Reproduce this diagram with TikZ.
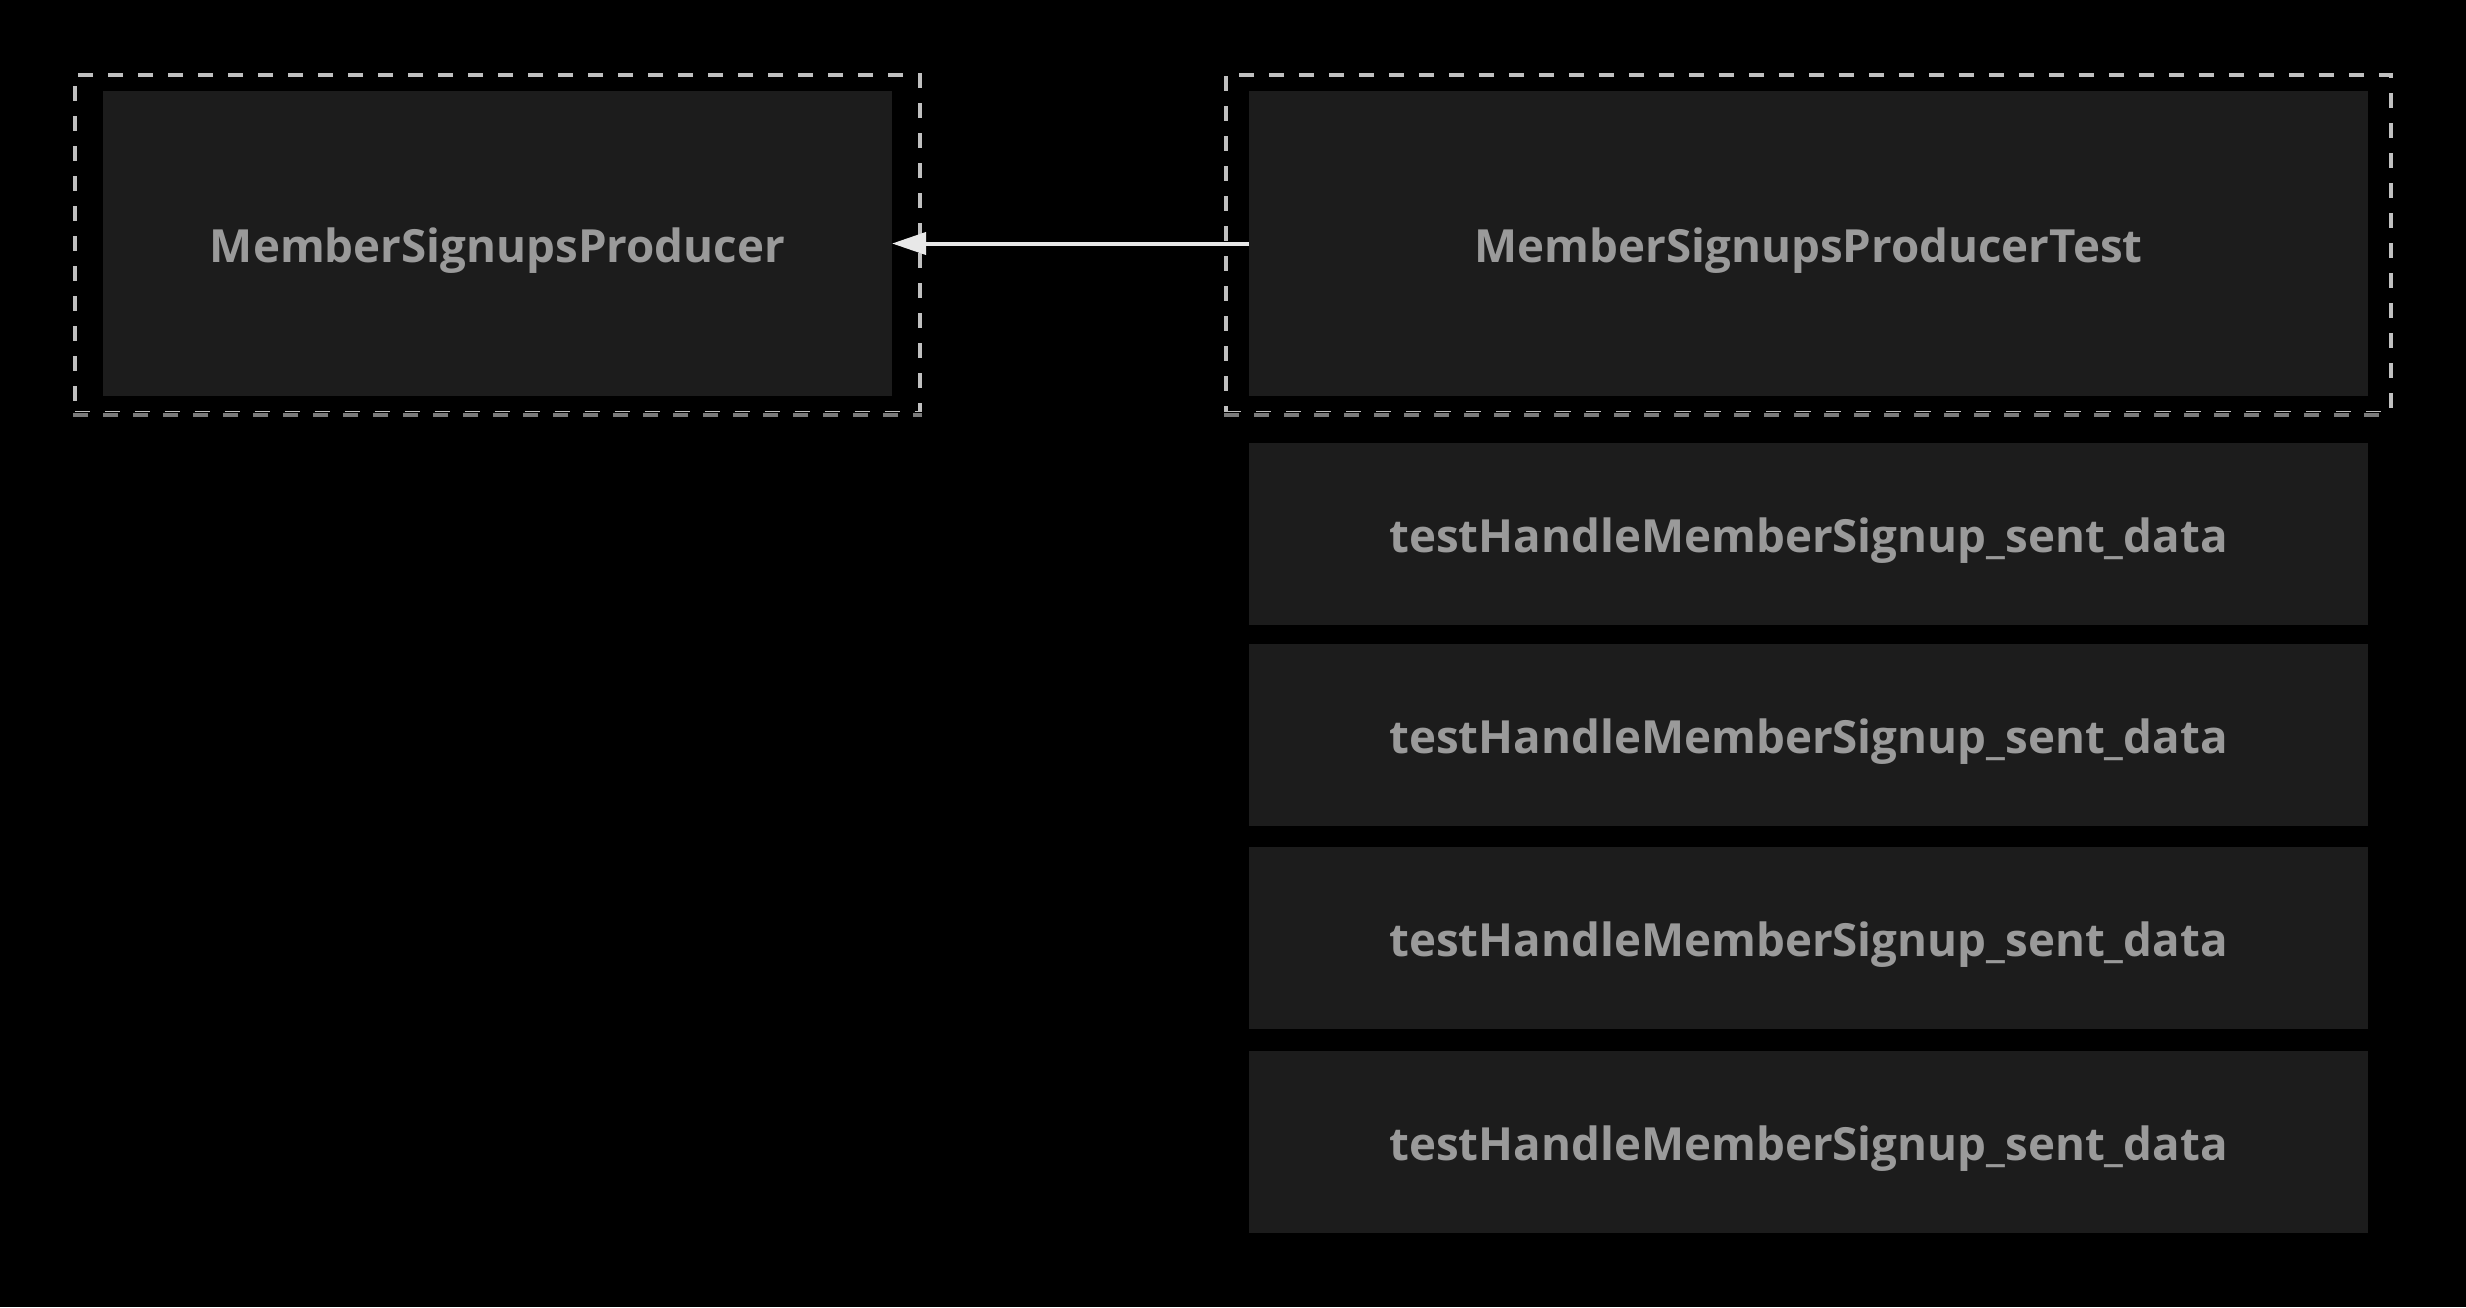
\documentclass[tikz,border=0pt]{standalone}
\usepackage{fontspec}
\setmainfont{Open Sans}
\definecolor{dgBack}{HTML}{000000}
\definecolor{dgCard}{HTML}{1C1C1C}
\definecolor{dgText}{HTML}{9A9A9A}
\definecolor{dgDash}{HTML}{C0C0C0}
\definecolor{dgDashDim}{HTML}{7A7A7A}
\definecolor{dgArrow}{HTML}{E8E8E8}
\usetikzlibrary{positioning,arrows.meta,fit}

\tikzset{
  card/.style={fill=dgCard, text=dgText, font=\fontsize{13pt}{15pt}\selectfont\bfseries,
    inner sep=0pt, outer sep=0pt, text height=10.8pt, text depth=0pt, minimum height=1.82cm},
  groupedge/.style={line width=0.04cm, dash pattern=on 0.15cm off 0.15cm},
  groupbox/.style={draw=dgDash, groupedge, inner xsep=0.28cm, inner ysep=0.165cm},
  link/.style={draw=dgArrow, line width=0.04cm, -{Triangle[length=0.34cm, width=0.22cm]}}
}

\begin{document}
\begin{tikzpicture}
  % canvas
  \fill[dgBack] (0,0) rectangle (24.66,-13.07);
  \useasboundingbox (0,0) rectangle (24.66,-13.07);

  % classes
  \node[card, minimum width=7.89cm, minimum height=3.05cm] (producer) at (4.975,-2.435) {MemberSignupsProducer};
  \node[card, minimum width=11.19cm, minimum height=3.05cm] (producerTest) at (18.085,-2.435) {MemberSignupsProducerTest};

  % test methods
  \node[card, minimum width=11.19cm, below=0.465cm of producerTest] (testA) {testHandleMemberSignup\_sent\_data};
  \node[card, minimum width=11.19cm, below=0.19cm of testA] (testB) {testHandleMemberSignup\_sent\_data};
  \node[card, minimum width=11.19cm, below=0.21cm of testB] (testC) {testHandleMemberSignup\_sent\_data};
  \node[card, minimum width=11.19cm, below=0.22cm of testC] (testD) {testHandleMemberSignup\_sent\_data};

  % dashed groups, lower edge a bit dimmer
  \node[groupbox, fit=(producer)] (producerGroup) {};
  \node[groupbox, inner xsep=0.23cm, fit=(producerTest)] (producerTestGroup) {};
  \foreach \grp in {producerGroup, producerTestGroup} {
    \draw[dgBack, line width=0.05cm] (\grp.south west) -- (\grp.south east);
    \draw[groupedge, dgDashDim] (\grp.south west) -- (\grp.south east);
  }

  % dependency
  \draw[link] (producerTest.west) -- (producer.east);
\end{tikzpicture}
\end{document}
